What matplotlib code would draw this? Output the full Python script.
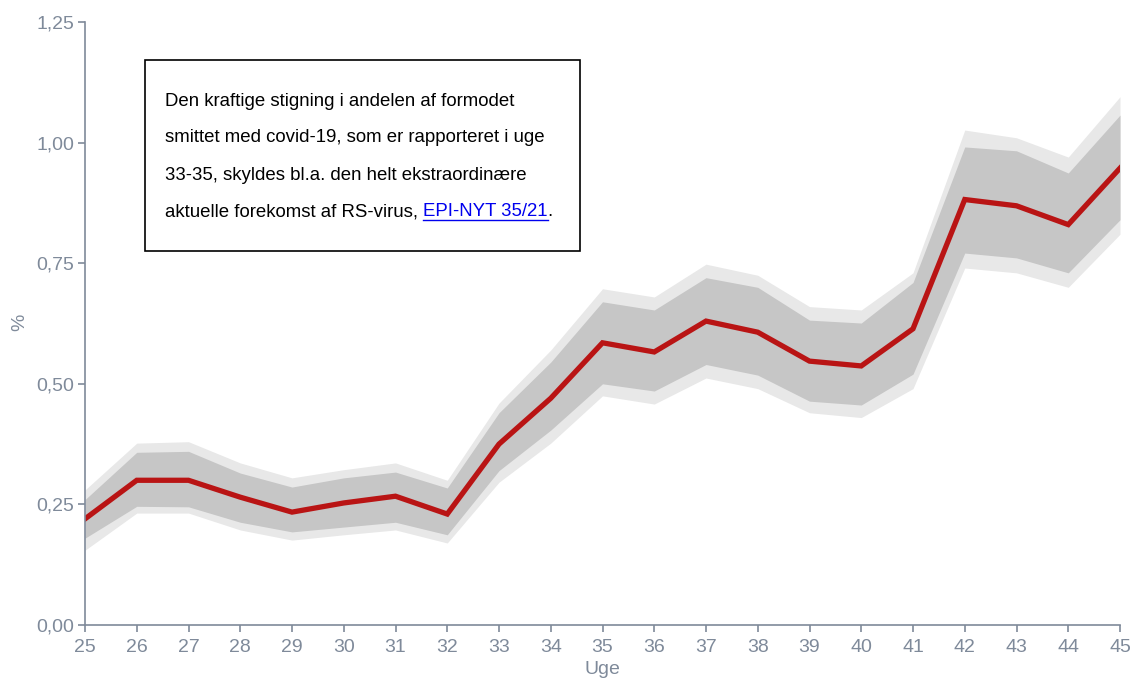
import numpy as np
import matplotlib
matplotlib.use("Agg")
import matplotlib.pyplot as plt

plt.rcParams['font.family'] = ['Liberation Sans', 'DejaVu Sans']

# data
uger = [25, 26, 27, 28, 29, 30, 31, 32, 33, 34, 35, 36, 37, 38, 39, 40, 41, 42, 43, 44, 45]
andel = [0.22, 0.30, 0.30, 0.265, 0.234, 0.253, 0.267, 0.23, 0.375, 0.47, 0.585, 0.566,
         0.63, 0.607, 0.547, 0.537, 0.614, 0.882, 0.869, 0.83, 0.947]
inner_hi = [0.26, 0.358, 0.36, 0.315, 0.286, 0.305, 0.317, 0.284, 0.44, 0.545, 0.67, 0.653,
            0.72, 0.70, 0.632, 0.626, 0.71, 0.991, 0.983, 0.937, 1.057]
inner_lo = [0.18, 0.246, 0.245, 0.213, 0.193, 0.203, 0.213, 0.187, 0.32, 0.404, 0.50, 0.485,
            0.54, 0.518, 0.464, 0.456, 0.52, 0.771, 0.761, 0.73, 0.84]
outer_hi = [0.28, 0.377, 0.38, 0.336, 0.305, 0.322, 0.336, 0.30, 0.46, 0.57, 0.697, 0.68,
            0.748, 0.725, 0.66, 0.653, 0.73, 1.026, 1.01, 0.97, 1.095]
outer_lo = [0.155, 0.232, 0.232, 0.197, 0.176, 0.187, 0.197, 0.17, 0.296, 0.377, 0.475, 0.458,
            0.512, 0.49, 0.44, 0.43, 0.49, 0.74, 0.73, 0.70, 0.81]
y_ticks = [0.0, 0.25, 0.5, 0.75, 1.0, 1.25]

axis_col = '#7f8a9a'
W, H = 1135, 680

fig = plt.figure(figsize=(11.35, 6.8), dpi=100)
ax = fig.add_axes([85/W, 55/H, (1120-85)/W, (625-22)/H])

ax.fill_between(uger, outer_lo, outer_hi, color='#e8e8e8', lw=0)
ax.fill_between(uger, inner_lo, inner_hi, color='#c6c6c6', lw=0)
ax.plot(uger, andel, color='#b91414', lw=3.8, solid_joinstyle='miter')

ax.set_xlim(25, 45)
ax.set_ylim(0, 1.25)
ax.set_xticks(uger)
ax.set_yticks(y_ticks)
ax.set_yticklabels([f"{v:.2f}".replace('.', ',') for v in y_ticks])
for s in ['top', 'right']:
    ax.spines[s].set_visible(False)
for s in ['left', 'bottom']:
    ax.spines[s].set_color(axis_col)
    ax.spines[s].set_linewidth(1.2)
ax.tick_params(colors=axis_col, labelsize=14, length=5, width=1.2)
ax.tick_params(axis='x', pad=5)
ax.tick_params(axis='y', pad=3)
fig.text(602/W, 1 - 669/H, 'Uge', color=axis_col, fontsize=14, ha='center', va='center')
fig.text(20/W, 1 - 322/H, '%', color=axis_col, fontsize=14, ha='center', va='center',
         rotation=90)

# annotation box
box = plt.Rectangle((145/W, 1 - 251/H), (580-145)/W, (251-60)/H,
                    transform=fig.transFigure, fill=True, facecolor='white',
                    edgecolor='black', lw=1.2, zorder=5)
fig.patches.append(box)
lines = ["Den kraftige stigning i andelen af formodet",
         "smittet med covid-19, som er rapporteret i uge",
         "33-35, skyldes bl.a. den helt ekstraordinære",
         "aktuelle forekomst af RS-virus, "]
ys = [101, 138, 175, 212]
fs = 13.4
txts = []
for t, yy in zip(lines, ys):
    txts.append(fig.text(165/W, 1 - yy/H, t, fontsize=fs, color='black',
                         va='center', ha='left', zorder=6))

fig.canvas.draw()
r = fig.canvas.get_renderer()
bb = txts[-1].get_window_extent(renderer=r)
link = fig.text(bb.x1/W, 1 - 212/H, "EPI-NYT 35/21", fontsize=fs, color='#0000ee',
                va='center', ha='left', zorder=6)
fig.canvas.draw()
lb = link.get_window_extent(renderer=r)
fig.add_artist(plt.Line2D([lb.x0/W, lb.x1/W], [(lb.y0 + 1)/H, (lb.y0 + 1)/H],
                          transform=fig.transFigure, color='#0000ee', lw=1, zorder=6))
fig.text(lb.x1/W, 1 - 212/H, ".", fontsize=fs, color='black', va='center', ha='left', zorder=6)

fig.savefig('out.png', dpi=100)
